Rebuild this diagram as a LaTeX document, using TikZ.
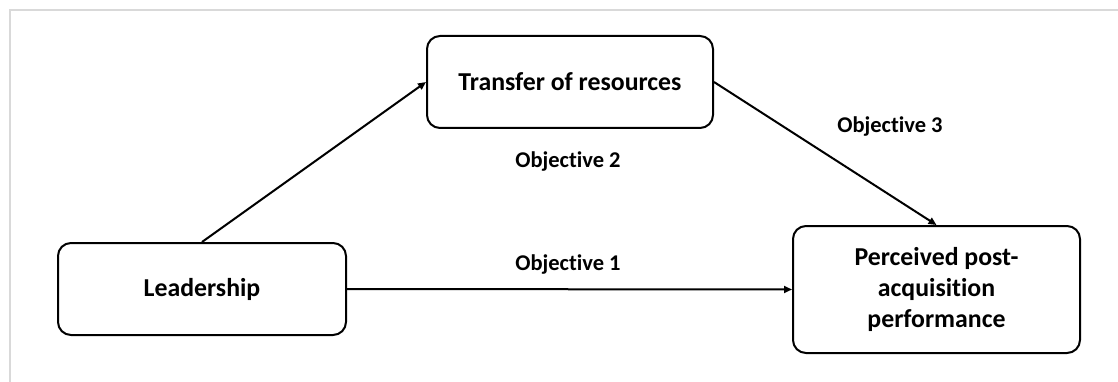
\documentclass[tikz,border=0pt]{standalone}
\usepackage{fontspec}
\setmainfont[Ligatures=NoCommon]{Carlito}
\usetikzlibrary{arrows.meta}
\tikzset{
  box/.style={draw=black, line width=2pt, rounded corners=13pt, fill=white,
    align=center, font=\fontsize{25.8}{31}\selectfont\bfseries, inner sep=0pt},
  lbl/.style={font=\fontsize{22.5}{26}\selectfont\bfseries, inner sep=0pt},
  conn/.style={line width=2pt, -{Triangle[length=8pt,width=7pt]}}
}
\begin{document}
\begin{tikzpicture}[x=1pt,y=-1pt]
\useasboundingbox (0,0) rectangle (1118,382);
\fill[white] (0,0) rectangle (1118,382);
\draw[line width=2.5pt, draw={rgb,255:red,217;green,217;blue,217}] (10,382) -- (10,10) -- (1118,10);
\node[box, minimum width=286pt, minimum height=92pt] (tr) at (570,82) {Transfer of resources};
\node[box, minimum width=288pt, minimum height=92pt] (le) at (202,289) {Leadership};
\node[box, minimum width=287pt, minimum height=127pt] (pe) at (936.5,289.5) {Perceived post-\\acquisition\\performance};
\draw[conn] (le.north) -- (tr.west);
\draw[conn] (le.east) -- (pe.west);
\draw[conn] (tr.east) -- (pe.north);
\node[lbl] (o1) at (568,265) {Objective 1};
\node[lbl] (o2) at (568,162) {Objective 2};
\node[lbl] (o3) at (890,127) {Objective 3};
\end{tikzpicture}
\end{document}
